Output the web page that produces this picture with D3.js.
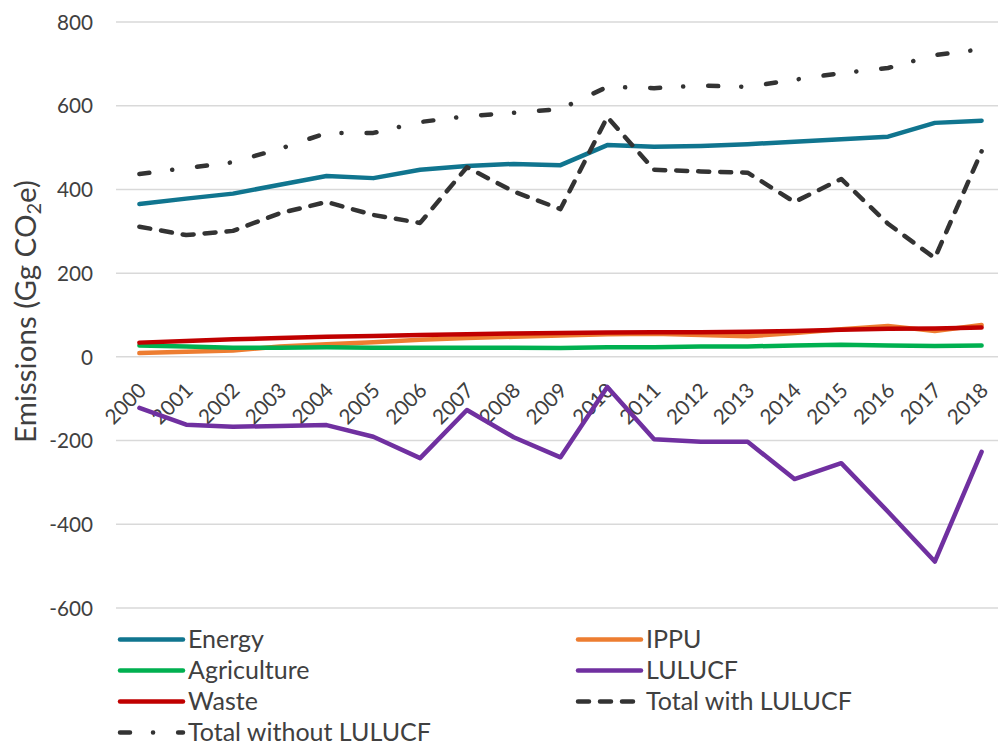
<!DOCTYPE html>
<html>
<head>
<meta charset="utf-8">
<script src="https://cdn.jsdelivr.net/npm/d3@7"></script>
<style>
    body { margin: 0; background: #fff; }
    svg text { font-family: Lato, "Open Sans", sans-serif; fill: #404040; }
</style>
</head>
<body>
<svg id="chart" width="998" height="747"></svg>
<script>
const years = [2000, 2001, 2002, 2003, 2004, 2005, 2006, 2007, 2008, 2009,
    2010, 2011, 2012, 2013, 2014, 2015, 2016, 2017, 2018];
const energy = [365, 378, 390, 411, 432, 427, 447, 456, 461, 458, 506, 502, 504, 508, 514, 520, 526, 559, 564];
const ippu = [9, 12, 15, 25, 30, 35, 41, 45, 48, 51, 54, 55, 52, 49, 57, 66, 74, 62, 76];
const agriculture = [27, 25, 22, 22, 23, 22, 22, 22, 22, 21, 23, 23, 25, 25, 27, 29, 27, 26, 27];
const lulucf = [-122, -162, -167, -165, -163, -191, -242, -127, -192, -240, -72, -197, -203, -203, -292, -254, -370, -489, -227];
const waste = [34, 38, 42, 45, 48, 50, 52, 54, 56, 57, 58, 59, 59, 60, 62, 65, 67, 68, 70];
const totalWith = [311, 291, 301, 343, 370, 339, 320, 453, 395, 353, 573, 447, 443, 440, 370, 425, 318, 236, 491];
const totalWithout = [437, 451, 465, 497, 535, 535, 561, 575, 583, 592, 645, 642, 648, 645, 662, 678, 690, 721, 735];
const yTicks = [-600, -400, -200, 0, 200, 400, 600, 800];

const series = [
    {name: 'Energy', values: energy, color: '#10758F', dash: null},
    {name: 'IPPU', values: ippu, color: '#ED7D31', dash: null},
    {name: 'Agriculture', values: agriculture, color: '#00B050', dash: null},
    {name: 'LULUCF', values: lulucf, color: '#7030A0', dash: null},
    {name: 'Waste', values: waste, color: '#C00000', dash: null},
    {name: 'Total with LULUCF', values: totalWith, color: '#333333', dash: '11, 11'},
    {name: 'Total without LULUCF', values: totalWithout, color: '#333333', dash: '10, 23, 0.1, 25'}
];

const svg = d3.select('#chart');
const plot = {left: 116, right: 1005, top: 22, bottom: 608};

const x = d3.scaleBand().domain(years).range([plot.left, plot.right]);
const cx = d => x(d) + x.bandwidth() / 2;
const y = d3.scaleLinear().domain([-600, 800]).range([plot.bottom, plot.top]);

// grid
svg.append('g')
    .attr('class', 'grid')
    .selectAll('line').data(yTicks)
    .join('line')
    .attr('x1', plot.left)
    .attr('x2', plot.right)
    .attr('y1', d => y(d))
    .attr('y2', d => y(d))
    .style('stroke', '#D9D9D9')
    .style('stroke-width', 1.5);

// y axis labels (plain hyphen like the original)
const yAxis = d3.axisLeft(y).tickValues(yTicks).tickSize(0).tickPadding(0)
    .tickFormat(d => String(d));
svg.append('g')
    .attr('transform', `translate(93,0)`)
    .call(yAxis)
    .call(g => g.select('.domain').remove())
    .call(g => g.selectAll('text')
        .style('font-family', 'Lato')
        .style('font-size', '20.7px')
        .attr('fill', '#404040')
        .attr('dy', '0.35em'));

svg.append('text')
    .attr('transform', `translate(36,${(178 + 445) / 2}) rotate(-90)`)
    .attr('text-anchor', 'middle')
    .style('font-size', '29.5px')
    .html('Emissions (Gg CO<tspan dy="5" font-size="20px">2</tspan><tspan dy="-5">e)</tspan>');

// x axis labels, rotated, sit under the lines
svg.append('g')
    .attr('class', 'xlabels')
    .selectAll('text').data(years)
    .join('text')
    .attr('transform', d => `translate(${cx(d) + 8},${y(0) + 35}) rotate(-45)`)
    .attr('text-anchor', 'end')
    .style('font-size', '20.7px')
    .text(d => d);

// lines
const line = d3.line()
    .x((d, i) => cx(years[i]))
    .y(d => y(d));

svg.append('g')
    .attr('class', 'series')
    .selectAll('path').data(series)
    .join('path')
    .attr('d', d => line(d.values))
    .attr('fill', 'none')
    .attr('stroke', d => d.color)
    .attr('stroke-width', 4.5)
    .attr('stroke-linejoin', 'round')
    .attr('stroke-linecap', 'round')
    .attr('stroke-dasharray', d => d.dash);

// legend
const legendRows = [639.5, 670.5, 701.5, 732.5];
const legendCols = [120, 578];
const legend = svg.append('g')
    .attr('class', 'legend')
    .selectAll('g').data(series)
    .join('g')
    .attr('transform', (d, i) => `translate(${legendCols[i % 2]},${legendRows[Math.floor(i / 2)]})`);
legend.append('line')
    .attr('x1', 0)
    .attr('x2', 63)
    .attr('stroke', d => d.color)
    .attr('stroke-width', 4.5)
    .attr('stroke-linecap', 'round')
    .attr('stroke-dasharray', d => d.dash);
legend.append('text')
    .attr('x', 68)
    .attr('dy', '0.35em')
    .style('font-size', '25px')
    .text(d => d.name);
</script>
</body>
</html>
